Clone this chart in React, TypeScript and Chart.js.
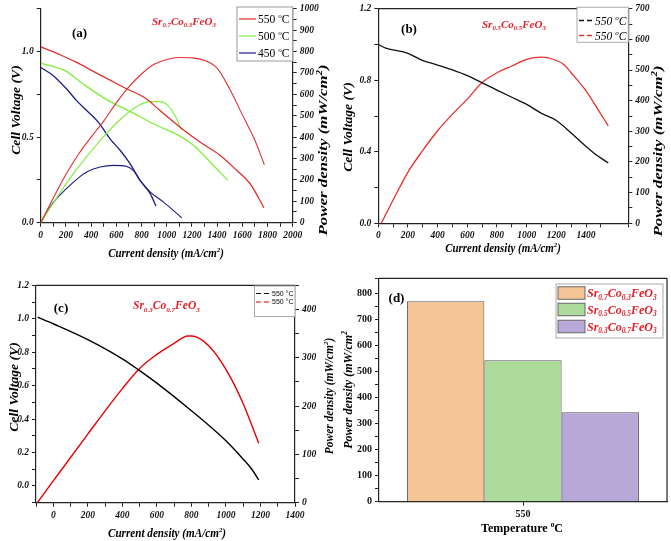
import React, { useEffect, useRef } from "react";
import { Chart, registerables } from "chart.js";
Chart.register(...registerables);

const PAGE_W = 671;
const PAGE_H = 541;
const SERIF = '"Liberation Serif", "Times New Roman", serif';
const SANS = '"Liberation Sans", Arial, sans-serif';

type Seg = [string, string?];

// ---------- Panel (a): Sr0.7Co0.3FeO3 at 550/500/450 °C ----------
const a550VoltCurrent = [0, 153, 285, 418, 669, 841, 947, 1106, 1264, 1423, 1555, 1661, 1772];
const a550Voltage = [1.027, 0.981, 0.936, 0.884, 0.787, 0.723, 0.655, 0.558, 0.471, 0.394, 0.306, 0.229, 0.087];
const a550PowCurrent = [0, 100, 200, 300, 400, 500, 600, 700, 800, 900, 1000, 1100, 1200, 1300, 1400, 1500, 1600, 1700, 1775];
const a550Power = [0, 115, 225, 320, 400, 475, 560, 635, 695, 740, 763, 772, 770, 758, 722, 625, 505, 385, 271];

const a500VoltCurrent = [0, 193, 338, 524, 696, 894, 1119, 1212, 1344, 1484];
const a500Voltage = [0.932, 0.888, 0.81, 0.719, 0.655, 0.578, 0.5, 0.452, 0.355, 0.248];
const a500PowCurrent = [0, 100, 259, 471, 656, 788, 868, 947, 1013, 1066, 1119];
const a500Power = [0, 92, 229, 384, 495, 551, 566, 566, 546, 500, 433];

const a450VoltCurrent = [0, 100, 206, 285, 365, 457, 550, 630, 709, 788, 868, 915];
const a450Voltage = [0.907, 0.859, 0.781, 0.713, 0.655, 0.587, 0.49, 0.423, 0.345, 0.248, 0.171, 0.097];
const a450PowCurrent = [0, 100, 206, 312, 365, 471, 577, 682, 735, 788, 868, 973, 1119];
const a450Power = [0, 95, 160, 215, 237, 260, 268, 263, 245, 198, 144, 97, 23];

// ---------- Panel (b): Sr0.5Co0.5FeO3 at 550 °C ----------
const bVoltCurrent = [0, 50, 200, 300, 400, 500, 600, 700, 800, 900, 1000, 1100, 1200, 1300, 1400, 1450, 1550];
const bVoltage = [1.0, 0.98, 0.95, 0.91, 0.885, 0.858, 0.826, 0.785, 0.745, 0.705, 0.665, 0.615, 0.575, 0.505, 0.43, 0.395, 0.337];
const bPowCurrent = [20, 100, 200, 300, 400, 500, 600, 700, 800, 900, 1000, 1100, 1200, 1250, 1300, 1400, 1500, 1550];
const bPower = [0, 76, 167, 238, 302, 356, 405, 459, 491, 513, 535, 542, 531, 518, 491, 432, 356, 318];

// ---------- Panel (c): Sr0.3Co0.7FeO3 at 550 °C ----------
const cVoltCurrent = [-90, 0, 200, 400, 500, 600, 800, 1000, 1100, 1150, 1190];
const cVoltage = [1.01, 0.97, 0.875, 0.76, 0.69, 0.615, 0.45, 0.27, 0.16, 0.1, 0.036];
const cPowCurrent = [-92, 0, 200, 400, 500, 600, 700, 780, 800, 900, 1000, 1100, 1190];
const cPower = [0, 45, 142, 236, 278, 307, 330, 345, 345, 325, 276, 205, 123];

// ---------- Panel (d): peak power density ----------
const dCategories = ["550"];
const dSeries = ["Sr0.7Co0.3FeO3", "Sr0.5Co0.5FeO3", "Sr0.3Co0.7FeO3"];
const dValues = [770, 543, 344];

// ---------- texts ----------
const formulaA: Seg[] = [["Sr"], ["0.7", "sub"], ["Co"], ["0.3", "sub"], ["FeO"], ["3", "sub"]];
const formulaB: Seg[] = [["Sr"], ["0.5", "sub"], ["Co"], ["0.5", "sub"], ["FeO"], ["3", "sub"]];
const formulaC: Seg[] = [["Sr"], ["0.3", "sub"], ["Co"], ["0.7", "sub"], ["FeO"], ["3", "sub"]];
const legendA: Seg[][] = [
  [["550 "], ["o", "sup"], ["C"]],
  [["500 "], ["o", "sup"], ["C"]],
  [["450 "], ["o", "sup"], ["C"]],
];
const legendB: Seg[] = [["550 "], ["o", "sup"], ["C"]];
const legendC: Seg[] = [["550 °C"]];
const voltTitle: Seg[] = [["Cell Voltage (V)"]];
const powerTitle: Seg[] = [["Power density (mW/cm"], ["2", "sup"], [")"]];
const powerTitleD: Seg[] = [["Power density (mW/cm"], ["2", "sup"]];
const curTitle: Seg[] = [["Current density (mA/cm"], ["2", "sup"], [")"]];
const tempTitle: Seg[] = [["Temperature "], ["o", "sup"], ["C"]];

const RED_A = "#e0302c";
const GREEN_A = "#80ee3c";
const NAVY_A = "#1c1c86";
const RED_TXT = "#e61e28";
const D_FILLS = ["#f5c595", "#acdb9c", "#b6a9d8"];

const isMult = (v: number, m: number) => Math.abs(v / m - Math.round(v / m)) < 1e-6;

function drawRich(ctx: CanvasRenderingContext2D, t: any) {
  const size = t.size;
  const fam = t.family || SERIF;
  const st = t.style || "normal";
  const wt = t.weight || "normal";
  const f = (s: number) => `${st} ${wt} ${s}px ${fam}`;
  ctx.save();
  ctx.translate(t.x, t.y);
  if (t.rot) ctx.rotate(t.rot);
  if (t.sx) ctx.scale(t.sx, 1);
  ctx.textBaseline = "alphabetic";
  ctx.textAlign = "left";
  let w = 0;
  for (const [s, k] of t.segs) {
    ctx.font = f(k ? size * 0.62 : size);
    w += ctx.measureText(s).width;
  }
  let x = t.align === "center" ? -w / 2 : t.align === "right" ? -w : 0;
  const base = size * 0.35;
  ctx.fillStyle = t.color || "#000";
  for (const [s, k] of t.segs) {
    ctx.font = f(k ? size * 0.62 : size);
    const dy = k === "sub" ? size * 0.22 : k === "sup" ? -size * 0.4 : 0;
    ctx.fillText(s, x, base + dy);
    x += ctx.measureText(s).width;
  }
  ctx.restore();
}

function makeOverlay(cfg: any) {
  return {
    id: "overlay",
    afterDraw(chart: any) {
      const ctx: CanvasRenderingContext2D = chart.ctx;
      const ca = chart.chartArea;
      if (cfg.frame) {
        ctx.save();
        ctx.strokeStyle = "#222";
        ctx.lineWidth = 1.2;
        ctx.beginPath();
        if (cfg.frame.top) {
          ctx.moveTo(ca.left, ca.top);
          ctx.lineTo(ca.right, ca.top);
        }
        if (cfg.frame.right) {
          ctx.moveTo(ca.right, ca.top);
          ctx.lineTo(ca.right, ca.bottom);
        }
        ctx.stroke();
        ctx.restore();
      }
      const lg = cfg.legend;
      if (lg) {
        const [bx, by, bw, bh] = lg.box;
        ctx.save();
        ctx.fillStyle = "#fff";
        ctx.fillRect(bx, by, bw, bh);
        ctx.strokeStyle = lg.border;
        ctx.lineWidth = 1;
        ctx.strokeRect(bx, by, bw, bh);
        ctx.restore();
        const entries = chart.data.datasets.filter((d: any) => d.legendText);
        entries.forEach((d: any, i: number) => {
          const y = lg.rows[i];
          ctx.save();
          if (lg.kind === "box") {
            ctx.fillStyle = d.backgroundColor;
            ctx.fillRect(lg.sym[0], y - lg.symH / 2, lg.sym[1] - lg.sym[0], lg.symH);
            ctx.strokeStyle = "#666";
            ctx.lineWidth = 1;
            ctx.strokeRect(lg.sym[0], y - lg.symH / 2, lg.sym[1] - lg.sym[0], lg.symH);
          } else {
            ctx.strokeStyle = d.borderColor;
            ctx.lineWidth = lg.lineWidth;
            ctx.setLineDash(lg.dash || []);
            ctx.beginPath();
            ctx.moveTo(lg.sym[0], y);
            ctx.lineTo(lg.sym[1], y);
            ctx.stroke();
          }
          ctx.restore();
          drawRich(ctx, { ...lg.text, x: lg.textX, y, segs: d.legendText });
        });
      }
      (cfg.texts || []).forEach((t: any) => drawRich(ctx, t));
    },
  };
}

function linAxis(o: any) {
  const horizontal = o.pos === "bottom";
  return {
    type: "linear",
    position: o.pos,
    min: o.min,
    max: o.max,
    ticks: {
      stepSize: o.step,
      autoSkip: false,
      maxRotation: 0,
      minRotation: 0,
      padding: 3,
      color: "#111",
      font: { family: SERIF, size: o.size, weight: "bold", style: o.italic === false ? "normal" : "italic" },
      callback: (v: any) => (isMult(Number(v), o.major) ? Number(v).toFixed(o.dec) : ""),
    },
    grid: {
      display: true,
      drawOnChartArea: false,
      drawTicks: true,
      tickLength: 4,
      tickColor: "#222",
      tickWidth: 1,
    },
    border: { display: true, color: "#222", width: 1.2 },
    afterFit: (s: any) => {
      if (horizontal) s.height = 20;
      else s.width = 30;
    },
  };
}

function pts(xs: number[], ys: number[]) {
  return xs.map((x, i) => ({ x, y: ys[i] }));
}

function lineDs(xs: number[], ys: number[], color: string, axis: string, width: number, legendText?: Seg[]) {
  return {
    data: pts(xs, ys),
    borderColor: color,
    backgroundColor: color,
    borderWidth: width,
    pointRadius: 0,
    fill: false,
    cubicInterpolationMode: "monotone",
    yAxisID: axis,
    legendText,
  };
}

function padFor(area: { l: number; r: number; t: number; b: number }, rightAxis: boolean) {
  return {
    left: area.l - 30,
    right: PAGE_W - area.r - (rightAxis ? 30 : 0),
    top: area.t,
    bottom: PAGE_H - area.b - 20,
  };
}

const baseOpts = (padding: any, scales: any) => ({
  responsive: false,
  animation: false,
  events: [],
  layout: { padding },
  plugins: { legend: { display: false }, tooltip: { enabled: false } },
  scales,
});

const bi = { weight: "bold", style: "italic" };
const ROT = -Math.PI / 2;

function configA(): any {
  const area = { l: 40.7, r: 292.7, t: 7, b: 222.7 };
  return {
    type: "line",
    data: {
      datasets: [
        lineDs(a550VoltCurrent, a550Voltage, RED_A, "y", 1.3, legendA[0]),
        lineDs(a550PowCurrent, a550Power, RED_A, "y2", 1.1),
        lineDs(a500VoltCurrent, a500Voltage, GREEN_A, "y", 1.3, legendA[1]),
        lineDs(a500PowCurrent, a500Power, GREEN_A, "y2", 1.1),
        lineDs(a450VoltCurrent, a450Voltage, NAVY_A, "y", 1.3, legendA[2]),
        lineDs(a450PowCurrent, a450Power, NAVY_A, "y2", 1.1),
      ],
    },
    options: baseOpts(padFor(area, true), {
      x: linAxis({ pos: "bottom", min: 0, max: 2000, step: 100, major: 200, dec: 0, size: 9.5 }),
      y: linAxis({ pos: "left", min: 0, max: 1.25, step: 0.25, major: 0.5, dec: 1, size: 9.5 }),
      y2: linAxis({ pos: "right", min: 0, max: 1000, step: 50, major: 100, dec: 0, size: 9.5 }),
    }),
    plugins: [
      makeOverlay({
        legend: {
          box: [237, 7, 55.7, 54],
          border: "#999",
          rows: [19, 36, 53],
          sym: [239, 256],
          lineWidth: 1.2,
          textX: 258,
          text: { size: 11.5 },
        },
        texts: [
          { x: 79.5, y: 32.5, segs: [["(a)"]], size: 13, weight: "bold", align: "center" },
          { x: 152, y: 21, segs: formulaA, size: 11, ...bi, color: RED_TXT },
          { x: 15, y: 110, segs: voltTitle, size: 13, sx: 1.05, ...bi, align: "center", rot: ROT },
          { x: 323, y: 150, segs: powerTitle, size: 12.5, sx: 1.35, ...bi, align: "center", rot: ROT },
          { x: 166, y: 253, segs: curTitle, size: 11.5, sx: 0.95, ...bi, align: "center" },
        ],
      }),
    ],
  };
}

function configB(): any {
  const area = { l: 378.3, r: 628.3, t: 7.3, b: 223.3 };
  return {
    type: "line",
    data: {
      datasets: [
        lineDs(bVoltCurrent, bVoltage, "#111", "y", 1.3, legendB),
        lineDs(bPowCurrent, bPower, "#e8302c", "y2", 1.3, legendB),
      ],
    },
    options: baseOpts(padFor(area, true), {
      x: linAxis({ pos: "bottom", min: 0, max: 1685, step: 100, major: 200, dec: 0, size: 9.5 }),
      y: linAxis({ pos: "left", min: 0, max: 1.2, step: 0.2, major: 0.4, dec: 1, size: 9.5 }),
      y2: linAxis({ pos: "right", min: 0, max: 700, step: 50, major: 100, dec: 0, size: 9.5 }),
    }),
    plugins: [
      makeOverlay({
        frame: { top: true },
        legend: {
          box: [577, 7.3, 51.3, 35],
          border: "#aaa",
          rows: [20.5, 35.5],
          sym: [579, 593],
          dash: [5, 3],
          lineWidth: 1.4,
          textX: 595,
          text: { size: 11.5, style: "italic" },
        },
        texts: [
          { x: 409, y: 28, segs: [["(b)"]], size: 13, weight: "bold", align: "center" },
          { x: 482, y: 24, segs: formulaB, size: 11, ...bi, color: RED_TXT },
          { x: 347, y: 127, segs: voltTitle, size: 13, sx: 1.05, ...bi, align: "center", rot: ROT },
          { x: 658, y: 151, segs: powerTitle, size: 12.5, sx: 1.35, ...bi, align: "center", rot: ROT },
          { x: 503, y: 248, segs: curTitle, size: 11.5, sx: 0.95, ...bi, align: "center" },
        ],
      }),
    ],
  };
}

function configC(): any {
  const area = { l: 36, r: 295, t: 285.3, b: 502.7 };
  return {
    type: "line",
    data: {
      datasets: [
        lineDs(cVoltCurrent, cVoltage, "#000", "y", 1.4, legendC),
        lineDs(cPowCurrent, cPower, "#e60000", "y2", 1.4, legendC),
      ],
    },
    options: baseOpts(padFor(area, true), {
      x: linAxis({ pos: "bottom", min: -100, max: 1400, step: 100, major: 200, dec: 0, size: 9.5 }),
      y: linAxis({ pos: "left", min: -0.1, max: 1.2, step: 0.1, major: 0.2, dec: 1, size: 9.5 }),
      y2: linAxis({ pos: "right", min: 0, max: 450, step: 50, major: 100, dec: 0, size: 9.5 }),
    }),
    plugins: [
      makeOverlay({
        frame: { top: true },
        legend: {
          box: [254.5, 286, 40.5, 30.5],
          border: "#aaa",
          rows: [293.5, 302],
          sym: [256, 271],
          dash: [5, 3],
          lineWidth: 1.2,
          textX: 272,
          text: { size: 7, family: SANS },
        },
        texts: [
          { x: 61, y: 307, segs: [["(c)"]], size: 13, weight: "bold", align: "center" },
          { x: 133, y: 305, segs: formulaC, size: 11.5, ...bi, color: RED_TXT },
          { x: 13, y: 387, segs: voltTitle, size: 13, sx: 1.05, ...bi, align: "center", rot: ROT },
          { x: 329, y: 396, segs: powerTitle, size: 11.5, ...bi, align: "center", rot: ROT },
          { x: 167, y: 533, segs: curTitle, size: 11.5, sx: 0.97, ...bi, align: "center" },
        ],
      }),
    ],
  };
}

function configD(): any {
  const area = { l: 379, r: 667, t: 278.3, b: 501.7 };
  const formulas = [formulaA, formulaB, formulaC];
  return {
    type: "bar",
    data: {
      labels: dCategories,
      datasets: dSeries.map((name, i) => ({
        label: name,
        data: [dValues[i]],
        backgroundColor: D_FILLS[i],
        borderColor: "#555",
        borderWidth: 1,
        barPercentage: 1,
        categoryPercentage: 0.805,
        legendText: formulas[i],
      })),
    },
    options: baseOpts(padFor(area, false), {
      x: {
        type: "category",
        offset: true,
        grid: { display: true, offset: false, drawOnChartArea: false, tickLength: 4, tickColor: "#222" },
        border: { display: true, color: "#222", width: 1.2 },
        ticks: { color: "#111", padding: 3, font: { family: SERIF, size: 10, weight: "bold" } },
        afterFit: (s: any) => {
          s.height = 20;
        },
      },
      y: linAxis({ pos: "left", min: 0, max: 858, step: 50, major: 100, dec: 0, size: 10, italic: false }),
    }),
    plugins: [
      makeOverlay({
        frame: { top: true, right: true },
        legend: {
          kind: "box",
          box: [556, 284, 107, 54],
          border: "#aaa",
          rows: [293, 309.5, 326.5],
          sym: [558, 585],
          symH: 12.5,
          textX: 587,
          text: { size: 12, ...bi, color: RED_TXT },
        },
        texts: [
          { x: 396.5, y: 297, segs: [["(d)"]], size: 13, weight: "bold", align: "center" },
          { x: 348, y: 390, segs: powerTitleD, size: 12, ...bi, align: "center", rot: ROT },
          { x: 522, y: 527.5, segs: tempTitle, size: 12, weight: "bold", align: "center" },
        ],
      }),
    ],
  };
}

export default function App() {
  const refs = [useRef<HTMLCanvasElement>(null), useRef<HTMLCanvasElement>(null), useRef<HTMLCanvasElement>(null), useRef<HTMLCanvasElement>(null)];
  useEffect(() => {
    const cfgs = [configA(), configB(), configC(), configD()];
    const charts = cfgs.map((cfg, i) => new Chart(refs[i].current as HTMLCanvasElement, cfg));
    return () => charts.forEach((c) => c.destroy());
  }, []);
  return (
    <div style={{ position: "fixed", left: 0, top: 0, width: PAGE_W, height: PAGE_H, background: "#fff" }}>
      {refs.map((r, i) => (
        <canvas
          key={i}
          ref={r}
          width={PAGE_W}
          height={PAGE_H}
          style={{ position: "absolute", left: 0, top: 0, width: PAGE_W, height: PAGE_H }}
        />
      ))}
    </div>
  );
}
